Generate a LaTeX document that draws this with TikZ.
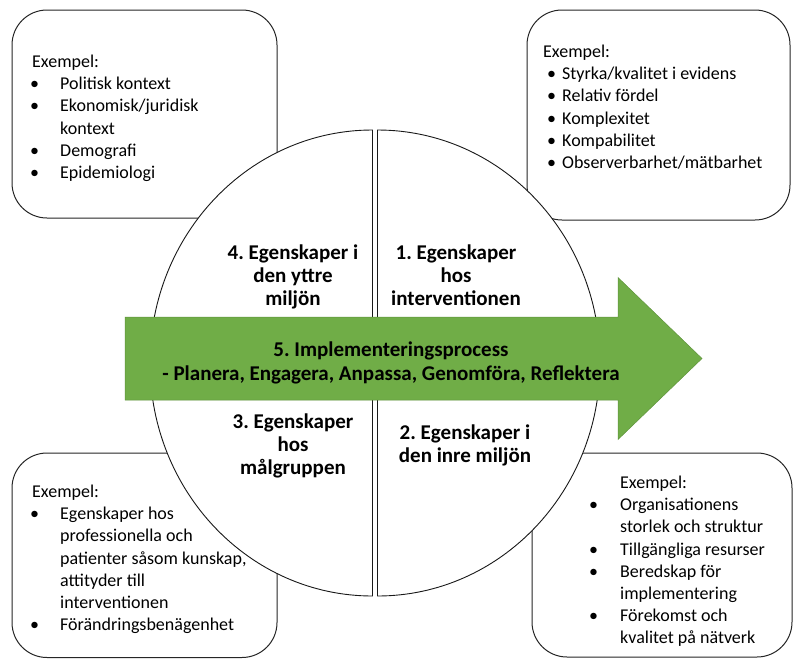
\documentclass[tikz,border=0pt]{standalone}
\usepackage{fontspec}
\setmainfont{Carlito}
\frenchspacing
\definecolor{arrowgreen}{HTML}{70AD47}
\tikzset{
 exbox/.style={draw=black!85, line width=1pt, rounded corners=35pt, fill=white},
 halfcirc/.style={draw=black!90, line width=0.9pt, fill=white},
 bigarrow/.style={fill=arrowgreen, draw=arrowgreen!85!black, line width=0.5pt},
 exlist/.style={anchor=base west, inner sep=0pt},
 lbl/.style={anchor=base, inner sep=0pt}
}
\newcommand{\mybul}[2]{\hspace*{#1}\makebox[#2][l]{•}}
\newcommand{\exfont}{\fontsize{18}{22.2}\selectfont\raggedright\frenchspacing}
\newcommand{\lblfont}{\fontsize{21}{23}\selectfont\bfseries\centering\frenchspacing}
\begin{document}
\begin{tikzpicture}[x=1pt,y=1pt]
\useasboundingbox (0,0) rectangle (795,-659);
% corner boxes
\draw[exbox] (12,-10) rectangle (277,-218);
\draw[exbox] (527,-10) rectangle (790,-220);
\draw[exbox] (12,-453) rectangle (277,-657.5);
\draw[exbox] (532,-453) rectangle (792,-657);
% central split ellipse
\draw[halfcirc] (372.5,-130) arc[start angle=90, end angle=270, x radius=222.5pt, y radius=233pt] -- cycle;
\draw[halfcirc] (377.5,-130) arc[start angle=90, end angle=-90, x radius=222.5pt, y radius=233pt] -- cycle;
% arrow
\draw[bigarrow] (125,-317) -- (618,-317) -- (618,-277.5) -- (702,-358.5) -- (618,-439.5) -- (618,-400) -- (125,-400) -- cycle;
% labels
\node[lbl] (q4) at (293,-259) {\parbox[t]{200pt}{\lblfont 4. Egenskaper i\\den yttre\\miljön}};
\node[lbl] (q1) at (456,-259) {\parbox[t]{200pt}{\lblfont 1. Egenskaper\\hos\\interventionen}};
\node[lbl] (q3) at (293,-428) {\parbox[t]{200pt}{\lblfont 3. Egenskaper\\hos\\målgruppen}};
\node[lbl] (q2) at (465,-439) {\parbox[t]{200pt}{\lblfont 2. Egenskaper i\\den inre miljön}};
\node[lbl] (proc) at (391,-356) {\parbox[t]{540pt}{\fontsize{21}{24}\selectfont\bfseries\centering\frenchspacing 5. Implementeringsprocess\\- Planera, Engagera, Anpassa, Genomföra, Reflektera}};
% example lists
\node[exlist] (tl) at (30,-67.5) {\parbox[t]{245pt}{\exfont
\hspace*{2pt}Exempel:\\
\mybul{0pt}{30pt}Politisk kontext\\
\mybul{0pt}{30pt}Ekonomisk/juridisk\\
\hspace*{30pt}kontext\\
\mybul{0pt}{30pt}Demografi\\
\mybul{0pt}{30pt}Epidemiologi}};
\node[exlist] (tr) at (543,-57.5) {\parbox[t]{245pt}{\exfont
Exempel:\\
\mybul{4pt}{15pt}Styrka/kvalitet i evidens\\
\mybul{4pt}{15pt}Relativ fördel\\
\mybul{4pt}{15pt}Komplexitet\\
\mybul{4pt}{15pt}Kompabilitet\\
\mybul{4pt}{15pt}Observerbarhet/mätbarhet}};
\node[exlist] (bl) at (30,-497.5) {\parbox[t]{245pt}{\exfont
\hspace*{2pt}Exempel:\\
\mybul{0pt}{30pt}Egenskaper hos\\
\hspace*{30pt}professionella och\\
\hspace*{30pt}patienter såsom kunskap,\\
\hspace*{30pt}attityder till\\
\hspace*{30pt}interventionen\\
\mybul{0pt}{30pt}Förändringsbenägenhet}};
\node[exlist] (br) at (589,-488.5) {\parbox[t]{245pt}{\exfont
\hspace*{31pt}Exempel:\\
\mybul{0pt}{31pt}Organisationens\\
\hspace*{31pt}storlek och struktur\\
\mybul{0pt}{31pt}Tillgängliga resurser\\
\mybul{0pt}{31pt}Beredskap för\\
\hspace*{31pt}implementering\\
\mybul{0pt}{31pt}Förekomst och\\
\hspace*{31pt}kvalitet på nätverk}};
\end{tikzpicture}
\end{document}
